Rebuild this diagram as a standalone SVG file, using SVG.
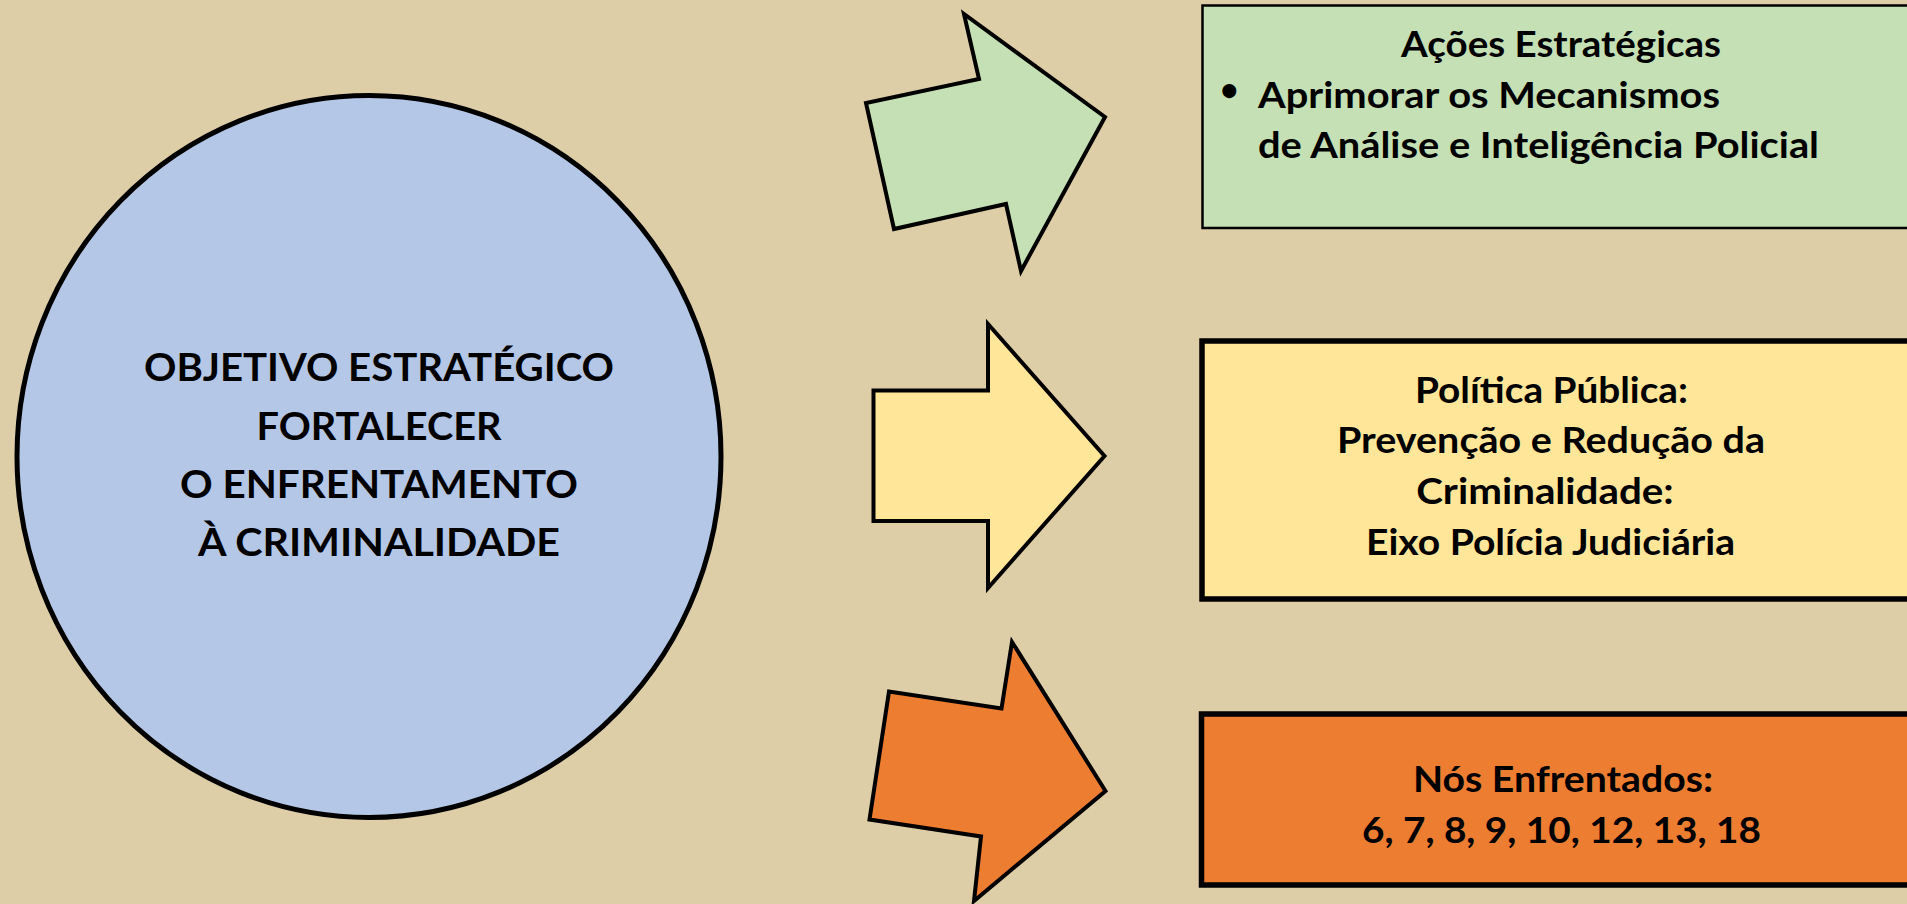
<svg xmlns="http://www.w3.org/2000/svg" width="1907" height="904" viewBox="0 0 1907 904">
<style>
.t{font-family:Lato,"Open Sans","Liberation Sans",sans-serif;font-weight:700;fill:#000}
.c{font-size:39px;text-anchor:middle}
.b{font-size:37px}
.m{text-anchor:middle}
.arr{stroke:#000;stroke-width:4;stroke-linejoin:miter}
</style>
<rect x="0" y="0" width="1907" height="904" fill="#DDCEA7"/>
<g id="objetivo">
<ellipse cx="369" cy="456.5" rx="352" ry="361" fill="#B4C7E7" stroke="#000" stroke-width="5"/>
<text class="t c" x="379" y="381" textLength="470" lengthAdjust="spacingAndGlyphs">OBJETIVO ESTRATÉGICO</text>
<text class="t c" x="379" y="439.5" textLength="245" lengthAdjust="spacingAndGlyphs">FORTALECER</text>
<text class="t c" x="379" y="498" textLength="398" lengthAdjust="spacingAndGlyphs">O ENFRENTAMENTO</text>
<text class="t c" x="379" y="556" textLength="362" lengthAdjust="spacingAndGlyphs">À CRIMINALIDADE</text>
</g>
<g id="connectors">
<polygon class="arr" fill="#C5E0B4" points="964,14 979,79 866,103 894,229 1006,204 1021,271 1105,117"/>
<polygon class="arr" fill="#FFE699" points="988,324 988,390.5 873.5,390.5 873.5,521 988,521 988,588 1104.5,456"/>
<polygon class="arr" fill="#ED7D31" points="1012,642 1001.5,708.5 889,691.5 869.5,819.5 981,836.5 974,901 1105.5,791"/>
</g>
<g id="acoes">
<rect x="1202.5" y="5.5" width="760" height="222.5" fill="#C5E0B4" stroke="#000" stroke-width="2.5"/>
<text class="t b m" x="1561" y="57" textLength="320" lengthAdjust="spacingAndGlyphs">Ações Estratégicas</text>
<text class="t" x="1220" y="101" font-size="32">•</text>
<text class="t b" x="1258" y="108" textLength="462" lengthAdjust="spacingAndGlyphs">Aprimorar os Mecanismos</text>
<text class="t b" x="1258" y="158" textLength="561" lengthAdjust="spacingAndGlyphs">de Análise e Inteligência Policial</text>
</g>
<g id="politica">
<rect x="1202" y="341" width="760" height="258" fill="#FFE699" stroke="#000" stroke-width="5.5"/>
<text class="t b m" x="1551.5" y="403.3" textLength="273" lengthAdjust="spacingAndGlyphs">Política Pública:</text>
<text class="t b m" x="1551" y="453" textLength="428" lengthAdjust="spacingAndGlyphs">Prevenção e Redução da</text>
<text class="t b m" x="1545" y="504" textLength="257.5" lengthAdjust="spacingAndGlyphs">Criminalidade:</text>
<text class="t b m" x="1550.5" y="555" textLength="369" lengthAdjust="spacingAndGlyphs">Eixo Polícia Judiciária</text>
</g>
<g id="nos">
<rect x="1201.5" y="714" width="760" height="171" fill="#ED7D31" stroke="#000" stroke-width="5.5"/>
<text class="t b m" x="1563" y="792" textLength="300" lengthAdjust="spacingAndGlyphs">Nós Enfrentados:</text>
<text class="t b m" x="1561.5" y="843" textLength="399" lengthAdjust="spacingAndGlyphs">6, 7, 8, 9, 10, 12, 13, 18</text>
</g>
</svg>
